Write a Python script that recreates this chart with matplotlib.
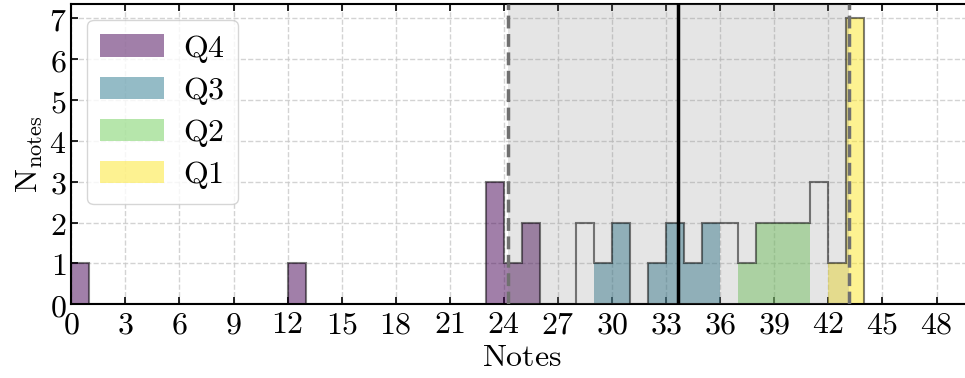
import numpy as np
import matplotlib
matplotlib.use("Agg")
import matplotlib.pyplot as plt
from matplotlib.ticker import FuncFormatter, MultipleLocator

plt.rcParams['mathtext.fontset'] = 'cm'
plt.rcParams['font.family'] = 'serif'

# histogram bins (width 1) and counts
bin_edges = np.arange(0, 51)
counts = np.zeros(50)
filled_bins = [0, 12, 23, 24, 25, 28, 29, 30, 32, 33, 34, 35, 36, 37, 38, 39, 40, 41, 42, 43]
filled_counts = [1, 1, 3, 1, 2, 2, 1, 2, 1, 2, 1, 2, 2, 1, 2, 2, 2, 3, 1, 7]
counts[filled_bins] = filled_counts

# bins coloured by quartile (others left unfilled)
quartiles = ['Q4', 'Q3', 'Q2', 'Q1']
quartile_bins = {
    'Q4': [0, 12, 23, 24, 25],
    'Q3': [29, 30, 32, 33, 34, 35],
    'Q2': [37, 38, 39, 40],
    'Q1': [42, 43],
}
cmap = plt.cm.viridis
quartile_colors = {'Q4': cmap(0.0), 'Q3': cmap(0.4), 'Q2': cmap(0.78), 'Q1': cmap(1.0)}

mean_notes = 33.67
std_notes = 9.45

fig = plt.figure(figsize=(9.65, 3.78), dpi=100)
ax = fig.add_axes([0.0739, 0.195, 0.934, 0.7944])

for q in quartiles:
    b = quartile_bins[q]
    ax.bar(b, counts[b], width=1, align='edge', color=quartile_colors[q],
           alpha=0.5, linewidth=0, zorder=2, label=r'$\mathrm{%s}$' % q)

ax.stairs(counts, bin_edges, color='k', alpha=0.5, linewidth=1.5, zorder=4)

ax.axvspan(mean_notes - std_notes, mean_notes + std_notes, color='gray', alpha=0.2,
           linewidth=0, zorder=3)
ax.axvline(mean_notes, color='k', linewidth=2.5, zorder=5)
ax.axvline(mean_notes - std_notes, color='#707070', linestyle='--', linewidth=2.5, zorder=5)
ax.axvline(mean_notes + std_notes, color='#707070', linestyle='--', linewidth=2.5, zorder=5)

ax.set_xlim(0, 50)
ax.set_ylim(0, 7 * 1.05)
ax.xaxis.set_major_locator(MultipleLocator(3))
ax.yaxis.set_major_locator(MultipleLocator(1))
fmt = FuncFormatter(lambda v, p: r'$%d$' % v)
ax.xaxis.set_major_formatter(fmt)
ax.yaxis.set_major_formatter(fmt)
ax.tick_params(direction='in', top=True, right=True, length=5, width=1.2, labelsize=23)
for s in ax.spines.values():
    s.set_linewidth(1.5)

ax.set_axisbelow(True)
ax.grid(True, linestyle='--', color='#c8c8c8', alpha=0.8, linewidth=1)

ax.set_xlabel(r'$\mathrm{Notes}$', fontsize=23, labelpad=1)
ax.set_ylabel(r'$\mathrm{N}_{\mathrm{notes}}$', fontsize=23, labelpad=3)

ax.legend(loc='upper left', fontsize=23, framealpha=0.8, labelspacing=0.32,
          handletextpad=0.6)

fig.savefig('out.png', dpi=100)
